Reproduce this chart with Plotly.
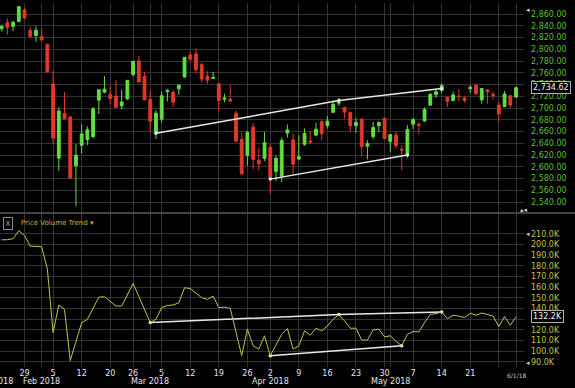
import plotly.graph_objects as go

# ---------------- data ----------------
dates = [
    "2018-01-23", "2018-01-24", "2018-01-25", "2018-01-26", "2018-01-29", "2018-01-30", "2018-01-31",
    "2018-02-01", "2018-02-02", "2018-02-05", "2018-02-06", "2018-02-07", "2018-02-08", "2018-02-09",
    "2018-02-12", "2018-02-13", "2018-02-14", "2018-02-15", "2018-02-16", "2018-02-20", "2018-02-21",
    "2018-02-22", "2018-02-23", "2018-02-26", "2018-02-27", "2018-02-28",
    "2018-03-01", "2018-03-02", "2018-03-05", "2018-03-06", "2018-03-07", "2018-03-08", "2018-03-09",
    "2018-03-12", "2018-03-13", "2018-03-14", "2018-03-15", "2018-03-16", "2018-03-19", "2018-03-20",
    "2018-03-21", "2018-03-22", "2018-03-23", "2018-03-26", "2018-03-27", "2018-03-28", "2018-03-29",
    "2018-04-02", "2018-04-03", "2018-04-04", "2018-04-05", "2018-04-06", "2018-04-09", "2018-04-10",
    "2018-04-11", "2018-04-12", "2018-04-13", "2018-04-16", "2018-04-17", "2018-04-18", "2018-04-19",
    "2018-04-20", "2018-04-23", "2018-04-24", "2018-04-25", "2018-04-26", "2018-04-27", "2018-04-30",
    "2018-05-01", "2018-05-02", "2018-05-03", "2018-05-04", "2018-05-07", "2018-05-08", "2018-05-09",
    "2018-05-10", "2018-05-11", "2018-05-14", "2018-05-15", "2018-05-16", "2018-05-17", "2018-05-18",
    "2018-05-21", "2018-05-22", "2018-05-23", "2018-05-24", "2018-05-25", "2018-05-29", "2018-05-30",
    "2018-05-31", "2018-06-01",
]
opens = [
    2835.05, 2845.42, 2846.24, 2847.48, 2867.23, 2832.74, 2832.41,
    2816.45, 2808.92, 2741.06, 2614.78, 2690.95, 2685.01, 2601.78,
    2636.75, 2646.27, 2651.21, 2713.46, 2727.14, 2722.99, 2720.53,
    2710.42, 2715.80, 2757.37, 2780.45, 2753.78,
    2715.22, 2658.89, 2681.06, 2730.18, 2710.18, 2732.75, 2752.91,
    2790.54, 2792.31, 2774.06, 2754.27, 2750.57, 2741.38, 2715.05,
    2714.99, 2691.36, 2646.71, 2619.35, 2667.57, 2611.30, 2614.41,
    2633.45, 2592.17, 2584.04, 2657.36, 2645.82, 2617.18, 2638.41,
    2643.89, 2653.83, 2676.90, 2670.10, 2692.74, 2710.11, 2701.16,
    2692.56, 2675.40, 2680.80, 2634.92, 2651.65, 2675.47, 2682.51,
    2642.96, 2654.24, 2628.08, 2621.45, 2680.34, 2670.26, 2678.12,
    2705.02, 2722.70, 2738.47, 2718.59, 2712.62, 2719.71, 2717.35,
    2735.39, 2738.34, 2713.98, 2730.94, 2723.60, 2705.11, 2702.43,
    2720.98, 2718.70,
]
highs = [
    2842.24, 2852.97, 2848.56, 2872.87, 2870.62, 2837.75, 2839.26,
    2835.96, 2808.92, 2763.39, 2701.04, 2727.67, 2685.27, 2638.67,
    2672.61, 2668.84, 2702.10, 2731.51, 2754.42, 2737.60, 2747.75,
    2731.26, 2747.76, 2780.64, 2789.15, 2761.52,
    2730.89, 2696.25, 2728.09, 2732.08, 2730.60, 2740.45, 2786.57,
    2796.98, 2801.90, 2777.11, 2763.03, 2761.85, 2741.38, 2724.22,
    2739.14, 2695.68, 2657.67, 2661.36, 2674.78, 2632.65, 2659.07,
    2638.30, 2619.14, 2649.86, 2672.08, 2656.88, 2653.55, 2665.45,
    2661.43, 2674.72, 2680.26, 2686.49, 2713.34, 2717.49, 2702.84,
    2693.94, 2682.86, 2683.55, 2645.30, 2676.48, 2677.35, 2682.87,
    2655.27, 2660.87, 2637.14, 2670.93, 2683.35, 2676.34, 2701.27,
    2726.11, 2732.86, 2742.10, 2718.59, 2727.76, 2731.96, 2719.50,
    2739.19, 2742.24, 2733.33, 2731.97, 2727.36, 2710.67, 2729.34,
    2722.50, 2736.93,
]
lows = [
    2830.59, 2824.81, 2830.94, 2846.18, 2851.48, 2818.27, 2813.04,
    2812.70, 2759.97, 2638.17, 2593.07, 2681.33, 2580.56, 2532.69,
    2622.45, 2637.08, 2648.87, 2689.82, 2725.11, 2706.76, 2701.29,
    2697.77, 2713.74, 2753.78, 2744.22, 2713.54,
    2659.65, 2647.32, 2675.75, 2711.26, 2701.74, 2722.65, 2751.54,
    2779.26, 2758.68, 2744.38, 2741.47, 2749.97, 2694.59, 2710.05,
    2709.79, 2641.59, 2585.89, 2601.81, 2596.12, 2593.06, 2609.72,
    2553.80, 2575.49, 2573.61, 2649.58, 2586.27, 2610.79, 2635.78,
    2639.25, 2653.83, 2645.05, 2665.16, 2692.05, 2703.63, 2681.90,
    2660.61, 2657.99, 2617.32, 2612.67, 2647.16, 2659.01, 2648.04,
    2625.41, 2631.70, 2594.62, 2615.32, 2664.70, 2655.20, 2676.32,
    2704.54, 2717.45, 2725.47, 2701.91, 2712.17, 2711.36, 2709.18,
    2725.70, 2721.88, 2707.38, 2707.38, 2714.99, 2676.81, 2702.43,
    2700.68, 2718.70,
]
closes = [
    2839.13, 2837.54, 2839.25, 2872.87, 2853.53, 2822.43, 2823.81,
    2821.98, 2762.13, 2648.94, 2695.14, 2681.66, 2581.00, 2619.55,
    2656.00, 2662.94, 2698.63, 2731.20, 2732.22, 2716.26, 2701.33,
    2703.96, 2747.30, 2779.60, 2744.28, 2713.83,
    2677.67, 2691.25, 2720.94, 2728.12, 2726.80, 2738.97, 2786.57,
    2783.02, 2765.31, 2749.48, 2747.33, 2752.01, 2712.92, 2716.94,
    2711.93, 2643.69, 2588.26, 2658.55, 2612.62, 2605.00, 2640.87,
    2581.88, 2614.45, 2644.69, 2662.84, 2604.47, 2613.16, 2656.87,
    2642.19, 2663.99, 2656.30, 2677.84, 2706.39, 2708.64, 2693.13,
    2670.14, 2670.29, 2634.56, 2639.40, 2666.94, 2669.91, 2648.05,
    2654.80, 2635.67, 2629.73, 2663.42, 2672.63, 2671.92, 2697.79,
    2723.07, 2727.72, 2730.13, 2711.45, 2722.46, 2720.13, 2712.97,
    2733.01, 2724.44, 2733.29, 2727.76, 2721.33, 2689.86, 2724.01,
    2705.27, 2734.62,
]
prior_close = 2832.97

pvt_thousands = [
    204.4, 204.5, 205.5, 213.0, 208.5, 198.5, 198.2,
    198.0, 177.0, 117.6, 143.3, 139.3, 91.2, 110.0,
    126.9, 130.0, 140.9, 150.7, 151.1, 146.3, 142.4,
    142.4, 153.5, 163.5, 151.4, 139.0,
    126.9, 130.0, 140.9, 143.0, 143.3, 145.5, 159.5,
    158.8, 154.8, 150.2, 148.6, 151.7, 140.9, 141.4,
    140.2, 118.0, 95.9, 120.7, 105.2, 102.0, 114.5,
    95.9, 106.7, 116.0, 121.3, 102.0, 105.2, 119.1,
    115.1, 121.6, 119.1, 123.8, 130.0, 134.4, 128.4,
    121.6, 121.6, 110.5, 110.5, 120.0, 120.7, 113.5,
    114.5, 109.3, 105.2, 116.0, 118.6, 118.2, 126.9,
    134.6, 135.3, 136.8, 130.6, 133.7, 133.0, 131.6,
    135.6, 133.7, 135.9, 134.6, 133.0, 123.2, 132.5,
    124.4, 132.2,
]

week_ticks = ["2018-01-29", "2018-02-05", "2018-02-12", "2018-02-20", "2018-02-26",
              "2018-03-05", "2018-03-12", "2018-03-19", "2018-03-26", "2018-04-02",
              "2018-04-09", "2018-04-16", "2018-04-23", "2018-04-30", "2018-05-07",
              "2018-05-14", "2018-05-21"]
week_labels = ["29", "5", "12", "20", "26", "5", "12", "19", "26", "2",
               "9", "16", "23", "30", "7", "14", "21"]
grid_only_ticks = ["2018-02-01", "2018-03-01", "2018-05-01", "2018-05-29", "2018-06-01"]
month_dates = ["2018-02-01", "2018-03-01", "2018-04-02", "2018-05-01"]
month_labels = ["Feb 2018", "Mar 2018", "Apr 2018", "May 2018"]
first_month_label = "Jan 2018"
last_date_label = "6/1/18"

price_ticks = [2540, 2560, 2580, 2600, 2620, 2640, 2660, 2680, 2700,
               2720, 2740, 2760, 2780, 2800, 2820, 2840, 2860]
pvt_ticks = [90, 100, 110, 120, 130, 140, 150, 160, 170, 180, 190, 200, 210]
pvt_tick_text = ["90.0K", "100.0K", "110.0K", "120.0K", "", "140.0K", "150.0K",
                 "160.0K", "170.0K", "180.0K", "190.0K", "200.0K", "210.0K"]

price_upper_x = ["2018-03-02", "2018-04-18", "2018-05-14"]
price_upper_y = [2657.0, 2712.8, 2733.5]
price_lower_x = ["2018-04-02", "2018-05-04"]
price_lower_y = [2579.0, 2620.0]
pvt_upper_x = ["2018-03-01", "2018-04-18", "2018-05-14"]
pvt_upper_y = [126.9, 134.4, 136.8]
pvt_lower_x = ["2018-04-02", "2018-05-03"]
pvt_lower_y = [95.9, 105.2]

# ---------------- styles ----------------
GREEN = "#62de40"
RED = "#e0392b"
GRID = "#333333"
PRICE_LABEL = "#5cbf2e"
PVT_COLOR = "#c4c44a"
PVT_LABEL = "#c2c24c"
TREND = "#e8e8e8"
FONT = "DejaVu Sans"

prev = [prior_close] + closes[:-1]
up_flags = [c >= p for c, p in zip(closes, prev)]


def subset(values, flag):
    return [v for v, u in zip(values, up_flags) if u == flag]


fig = go.Figure()
for flag, col in ((True, GREEN), (False, RED)):
    fig.add_trace(go.Candlestick(
        x=subset(dates, flag), open=subset(opens, flag), high=subset(highs, flag),
        low=subset(lows, flag), close=subset(closes, flag),
        increasing=dict(line=dict(color=col, width=1), fillcolor=col),
        decreasing=dict(line=dict(color=col, width=1), fillcolor=col),
        whiskerwidth=0, xaxis="x", yaxis="y", hoverinfo="skip",
    ))

for xs, ys, ax, ay in ((price_upper_x, price_upper_y, "x", "y"),
                       (price_lower_x, price_lower_y, "x", "y"),
                       (pvt_upper_x, pvt_upper_y, "x2", "y2"),
                       (pvt_lower_x, pvt_lower_y, "x2", "y2")):
    fig.add_trace(go.Scatter(x=xs, y=ys, mode="lines+markers", xaxis=ax, yaxis=ay,
                             line=dict(color=TREND, width=1.5),
                             marker=dict(size=3.5, color=TREND), hoverinfo="skip"))

fig.add_trace(go.Scatter(x=dates, y=pvt_thousands, mode="lines", xaxis="x2", yaxis="y2",
                         line=dict(color=PVT_COLOR, width=1), hoverinfo="skip"))

all_ticks = week_ticks + grid_only_ticks
all_text = week_labels + [""] * len(grid_only_ticks)

PLOT_W = 575 - 51
PLOT_TOP, PLOT_BOT = 3, 367
PLOT_H = PLOT_BOT - PLOT_TOP


def py(pix):
    return (PLOT_BOT - pix) / PLOT_H


def px(pix):
    return pix / PLOT_W


common_x = dict(type="category", categoryorder="array", categoryarray=dates,
                range=[-0.29, 91.4], tickvals=all_ticks, ticktext=all_text,
                showgrid=True, gridcolor=GRID, gridwidth=1, ticks="",
                zeroline=False, showline=False, fixedrange=True)

fig.update_layout(
    width=575, height=388,
    margin=dict(l=0, r=51, t=PLOT_TOP, b=388 - PLOT_BOT),
    paper_bgcolor="black", plot_bgcolor="black", showlegend=False,
    font=dict(family=FONT, size=8, color="#dddddd"),
    xaxis=dict(common_x, anchor="y", domain=[0, 1], showticklabels=False,
               rangeslider=dict(visible=False)),
    xaxis2=dict(common_x, anchor="y2", domain=[0, 1], matches="x", showticklabels=True,
                tickfont=dict(size=8, color="#e6e6e6"), rangeslider=dict(visible=False)),
    yaxis=dict(domain=[py(212), 1], anchor="x", range=[2523, 2879], side="right",
               tickvals=price_ticks, tickformat=",.2f", ticks="", showgrid=True,
               gridcolor=GRID, zeroline=False, showline=False,
               tickfont=dict(size=8, color=PRICE_LABEL), ticklabelstandoff=6),
    yaxis2=dict(domain=[0, py(214)], anchor="x2", range=[85.3, 228.6], side="right",
                tickvals=pvt_ticks, ticktext=pvt_tick_text, ticks="", showgrid=True,
                gridcolor=GRID, zeroline=False, showline=False,
                tickfont=dict(size=8, color=PVT_LABEL), ticklabelstandoff=6),
)

# separator between panels
fig.add_shape(type="line", xref="paper", yref="paper", x0=0, x1=575 / PLOT_W,
              y0=py(213), y1=py(213), line=dict(color="#5a5a5a", width=1.5))

ann = []
# month labels (second row)
for d, t in zip(month_dates, month_labels):
    ann.append(dict(x=d, xref="x2", y=py(381), yref="paper", text=t, showarrow=False,
                    xanchor="center", yanchor="middle",
                    font=dict(size=8, color="#e6e6e6")))
ann.append(dict(x=dates[0], xref="x2", y=py(381), yref="paper", text=first_month_label,
                showarrow=False, xanchor="right", yanchor="middle", xshift=13.5,
                font=dict(size=8, color="#e6e6e6")))
ann.append(dict(x=dates[-1], xref="x2", y=py(376), yref="paper", text=last_date_label,
                showarrow=False, xanchor="center", yanchor="middle",
                font=dict(size=6, color="#cccccc")))
# last value boxes
ann.append(dict(x=px(531), xref="paper", y=closes[-1], yref="y",
                text=f"{closes[-1]:,.2f}", showarrow=False, xanchor="left", yanchor="middle",
                bgcolor="black", bordercolor="#b0b0b0", borderwidth=1, borderpad=1,
                font=dict(size=8, color="#f0f0f0")))
ann.append(dict(x=px(531), xref="paper", y=pvt_thousands[-1], yref="y2",
                text=f"{pvt_thousands[-1]:.1f}K", showarrow=False, xanchor="left",
                yanchor="middle", bgcolor="black", bordercolor="#b0b0b0", borderwidth=1,
                borderpad=1, font=dict(size=8, color="#f0f0f0")))
# indicator header
ann.append(dict(x=px(3), xref="paper", y=py(223), yref="paper", text="X", showarrow=False,
                xanchor="left", yanchor="middle", bordercolor="#8a8a8a", borderwidth=1,
                borderpad=1.5, font=dict(size=7, color="#b0b0b0")))
ann.append(dict(x=px(19), xref="paper", y=py(223), yref="paper",
                text="Price Volume Trend \u25be", showarrow=False, xanchor="left",
                yanchor="middle", font=dict(size=7, color="#c9b23c")))
# small scroll arrows on the axes
for xp, yp, t in ((528, 10, "\u25c2"), (524, 210, "\u25b4\u25c2"),
                  (528, 234, "\u25c2"), (528, 363, "\u25c2")):
    ann.append(dict(x=px(xp), xref="paper", y=py(yp), yref="paper", text=t,
                    showarrow=False, xanchor="center", yanchor="middle",
                    font=dict(size=7, color="#cccccc")))
fig.update_layout(annotations=ann)

fig.write_html("out.html")
